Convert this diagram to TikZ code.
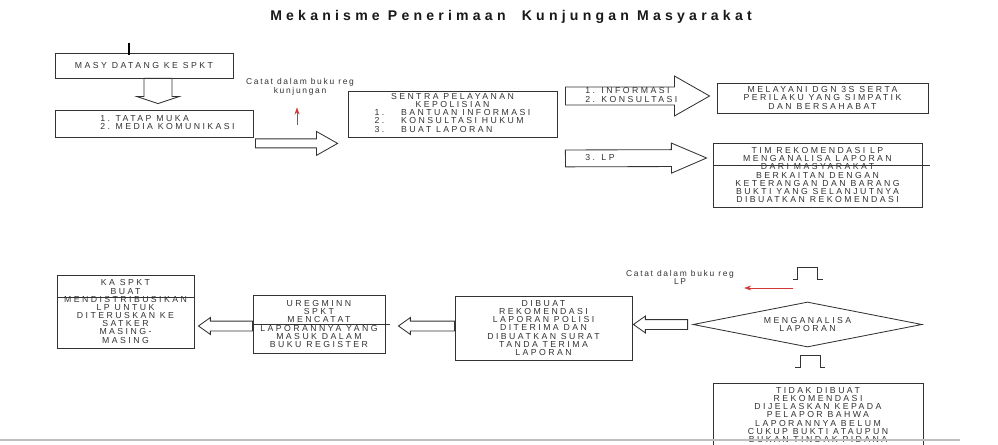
\documentclass[tikz,border=0pt]{standalone}
\usepackage{fontspec}
\setmainfont{Liberation Sans}
\newfontfamily\boxfont[LetterSpace=28]{Liberation Sans}
\newfontfamily\notefont[LetterSpace=20]{Liberation Sans}
\newfontfamily\headfont[LetterSpace=30]{Liberation Sans}
\usetikzlibrary{calc,arrows.meta,shapes.geometric}
\definecolor{boxline}{HTML}{333333}
\definecolor{boxtext}{HTML}{333333}
\definecolor{notered}{HTML}{D03838}

\tikzset{
  wh/.style 2 args={minimum width=#1*0.025cm, minimum height=#2*0.025cm},
  box/.style={draw=boxline, line width=0.6pt, inner sep=0pt, align=center,
    text=boxtext, font=\boxfont\fontsize{6.2}{5.8}\selectfont},
  txt/.style={inner sep=0pt, align=center, text=boxtext,
    font=\boxfont\fontsize{6.2}{5.8}\selectfont},
  note/.style={inner sep=0pt, align=center, text=boxtext,
    font=\notefont\fontsize{6}{6}\selectfont},
  shaftw/.store in=\ashaft, wingw/.store in=\awing, headl/.store in=\ahead,
  shaftw=3pt, wingw=6pt, headl=8pt,
  bigarrow/.style={draw=boxline, line width=0.6pt, fill=white,
    to path={let \p1=($(\tikztotarget)-(\tikztostart)$),
      \n1={veclen(\x1,\y1)}, \n2={atan2(\y1,\x1)} in
      [shift={(\tikztostart)}, rotate=\n2]
      (0pt,\ashaft) -- ({\n1*1pt-\ahead},\ashaft) -- ({\n1*1pt-\ahead},\awing)
      -- ({\n1*1pt},0pt) -- ({\n1*1pt-\ahead},-\awing)
      -- ({\n1*1pt-\ahead},-\ashaft) -- (0pt,-\ashaft) -- cycle}},
  stub/.style={draw=boxline, line width=0.6pt,
    to path={($(\tikztotarget)+(-15,0)$) -- ++(5,0) -- ++(0,-12) -- ++(20,0)
      -- ++(0,12) -- ++(5,0)}},
  redarrow/.style={draw=notered, line width=0.5pt,
    -{Stealth[length=5pt,width=3.5pt]}}
}

\begin{document}
\begin{tikzpicture}[x=0.025cm, y=-0.025cm]
  \clip (0,0) rectangle (998,445);
  \fill[white] (0,0) rectangle (998,445);

  \node[text=black!90, font={\headfont\bfseries\fontsize{10}{10}\selectfont}] (title)
    at (511,17) {Mekanisme Penerimaan\ \ Kunjungan Masyarakat};

  % top row
  \node[box, wh={178}{25}] (masy) at (144,65.5) {MASY DATANG KE SPKT};
  \draw[line width=1.2pt, black] ($(masy.north)+(-15,-10)$) -- ++(0,12);
  \node[box, wh={198}{27}] (media) at (154,123.5) {};
  \node[txt, anchor=west] (mediatxt) at (100,123.5)
    {\begin{tabular}{@{}l@{\hspace{4pt}}l@{}}1.&TATAP MUKA\\2.&MEDIA KOMUNIKASI\end{tabular}};
  \node[box, wh={209}{46}] (sentra) at (452.5,114)
    {SENTRA PELAYANAN\\KEPOLISIAN\\
     \begin{tabular}{@{}l@{\hspace{12pt}}l@{}}1.&BANTUAN INFORMASI\\2.&KONSULTASI HUKUM\\3.&BUAT LAPORAN\end{tabular}};
  \node[box, wh={211}{30}] (melayani) at (822.5,98)
    {MELAYANI DGN 3S SERTA\\PERILAKU YANG SIMPATIK\\DAN BERSAHABAT};
  \node[box, wh={209}{64}] (tim) at (817.5,175)
    {TIM REKOMENDASI LP\\MENGANALISA LAPORAN\\DARI MASYARAKAT\\BERKAITAN DENGAN\\KETERANGAN DAN BARANG\\BUKTI YANG SELANJUTNYA\\DIBUATKAN REKOMENDASI};
  \draw[boxline, line width=0.6pt] (tim.west |- 0,165) -- ++(217,0);

  \node[note] (note1) at (300,87) {Catat dalam buku reg\\kunjungan};
  \coordinate (r1) at (297,125);
  \draw[redarrow] (r1) -- ($(note1.south)+(-3,12)$);

  \draw[bigarrow, shaftw=10pt, wingw=15pt, headl=5pt]
    ($(masy.south)+(14,0)$) to ($(media.north)+(4,-6)$);
  \draw[bigarrow, shaftw=3.2pt, wingw=8.5pt, headl=15pt]
    ($(media.south east)+(2,6)$) to ($(sentra.south west)+(-10,6)$);
  \draw[bigarrow, shaftw=6.4pt, wingw=14.2pt, headl=25pt]
    ($(sentra.east)+(8,-18)$) to ($(melayani.west)+(-7,-2)$);
  \draw[bigarrow, shaftw=6pt, wingw=10.7pt, headl=25pt]
    ($(sentra.south east)+(8,21)$) to ($(tim.west)+(-6,-17)$);
  \node[txt, anchor=west, align=left] (infotxt) at (585,95) {1. INFORMASI\\2. KONSULTASI};
  \node[txt, anchor=west] (lptxt) at (585,158) {3. LP};

  % bottom row
  \node[box, diamond, aspect=5, wh={229}{45}] (diam) at (807.5,324.5) {MENGANALISA\\LAPORAN};
  \node[box, wh={177}{64}] (dibuat) at (543.5,328)
    {DIBUAT\\REKOMENDASI\\LAPORAN POLISI\\DITERIMA DAN\\DIBUATKAN SURAT\\TANDA TERIMA\\LAPORAN};
  \node[box, wh={132}{58}] (ureg) at (319,324)
    {UREGMINN\\SPKT\\MENCATAT\\LAPORANNYA YANG\\MASUK DALAM\\BUKU REGISTER};
  \draw[boxline, line width=0.6pt] (ureg.west |- 0,324) -- ++(137,0);
  \node[box, wh={137}{73}] (ka) at (125.5,311.5)
    {KA SPKT\\BUAT\\MENDISTRIBUSIKAN\\LP UNTUK\\DITERUSKAN KE\\SATKER\\MASING-\\MASING};
  \draw[boxline, line width=0.6pt] (ka.west |- 0,297) -- (ka.east |- 0,297);
  \node[box, wh={210}{64}] (tidak) at (818,415)
    {TIDAK DIBUAT\\REKOMENDASI\\DIJELASKAN KEPADA\\PELAPOR BAHWA\\LAPORANNYA BELUM\\CUKUP BUKTI ATAUPUN\\BUKAN TINDAK PIDANA};

  \draw[stub] (tim.south) to ($(diam.north)+(0,-22)$);
  \draw[stub] (diam.south) to ($(tidak.north)+(-8,-15)$);
  \draw[bigarrow, shaftw=3.5pt, wingw=6pt, headl=8.5pt]
    ($(diam.west)+(-5,0)$) to ($(dibuat.east |- diam.west)+(1,0)$);
  \draw[bigarrow, shaftw=3.5pt, wingw=6pt, headl=8.5pt]
    ($(dibuat.west)+(0,-2)$) to ($(ureg.east)+(13,2)$);
  \draw[bigarrow, shaftw=3.5pt, wingw=6pt, headl=8.5pt]
    ($(ureg.west)+(0,2)$) to ($(ka.east)+(4,14.5)$);

  \node[note] (note2) at (680,277.5) {Catat dalam buku reg\\LP};
  \coordinate (r2) at (793,288);
  \draw[redarrow] (r2) -- ($(r2 -| note2.east)+(10,0)$);

  \draw[black!25, line width=0.8pt] (0,440) -- (960,440);
\end{tikzpicture}
\end{document}
